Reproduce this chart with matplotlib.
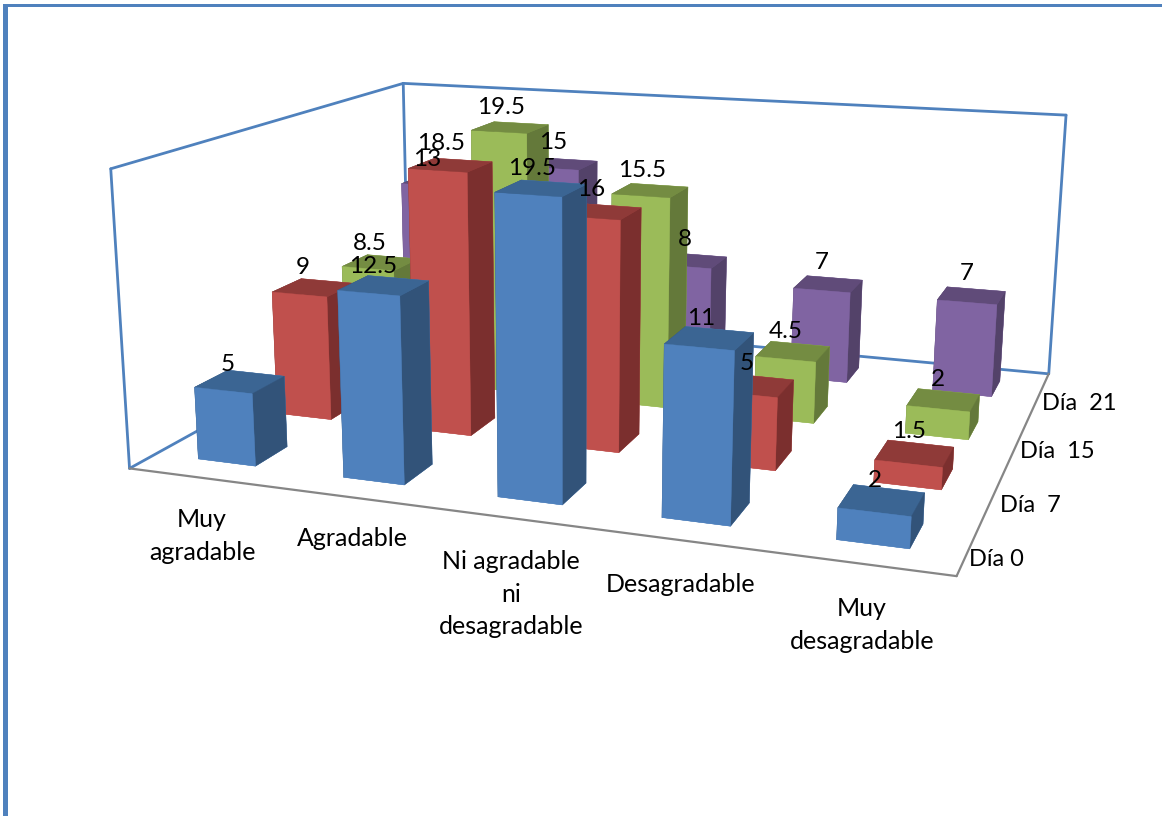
import numpy as np
import matplotlib
matplotlib.use("Agg")
import matplotlib.pyplot as plt
from matplotlib.patches import Rectangle
from mpl_toolkits.mplot3d import proj3d

W, H = 1162, 816

# ---- data -------------------------------------------------------------
categories = ["Muy\nagradable", "Agradable", "Ni agradable\nni\ndesagradable",
              "Desagradable", "Muy\ndesagradable"]
series_names = ["Día 0", "Día  7", "Día  15", "Día  21"]
dia0 = [5, 12.5, 19.5, 11, 2]
dia7 = [9, 18.5, 16, 5, 1.5]
dia15 = [8.5, 19.5, 15.5, 4.5, 2]
dia21 = [13, 15, 8, 7, 7]
series = [dia0, dia7, dia15, dia21]

# ---- style ------------------------------------------------------------
# faces: bottom, top, front, back, left, right
shades = [
    ("#4f81bd", "#3b6593", "#325379"),
    ("#c0504d", "#8f3a38", "#7b2f2e"),
    ("#9bbb59", "#748c42", "#64793a"),
    ("#8064a2", "#604b79", "#534269"),
]
BAR = 0.4            # Excel default gap of 150 %
ZMAX = 20
FS_CAT = 18
FS_VAL = 17.5
FS_SER = 17
WALL = "#4f81bd"
FLOOR = "#868686"
plt.rcParams["font.family"] = ["Lato", "DejaVu Sans"]

# ---- camera: box corners (x, y, z) seen at reference pixels --------------
box_pts = np.array([(0, 0, 0), (5, 0, 0), (5, 4, 0),
                    (0, 4, ZMAX), (5, 4, ZMAX), (0, 0, ZMAX)], float)
pix_pts = np.array([(129.5, 468.3), (956.7, 576), (1048.7, 374),
                    (403.3, 83.3), (1066, 115), (110.7, 169)], float)
rows, rhs = [], []
for (x, y, z), (u, v) in zip(box_pts, pix_pts):
    rows.append([x, y, z, 1, 0, 0, 0, 0, -u*x, -u*y, -u*z]); rhs.append(u)
    rows.append([0, 0, 0, 0, x, y, z, 1, -v*x, -v*y, -v*z]); rhs.append(v)
p = np.linalg.lstsq(np.array(rows), np.array(rhs), rcond=None)[0]
P = np.append(p, 1.0).reshape(3, 4)

fig = plt.figure(figsize=(W/100, H/100), dpi=100, facecolor="white")
ax = fig.add_axes([0, 0, 1, 1], projection="3d")
ax.apply_aspect = lambda position=None: None
ax.computed_zorder = False
ax.set_axis_off()
ax.set_xlim(0, 5); ax.set_ylim(0, 4); ax.set_zlim(0, ZMAX)


def camera():
    vl = ax.viewLim
    r1 = vl.x0*P[2] + vl.width/W*P[0]
    r2 = (vl.y0 + vl.height)*P[2] - vl.height/H*P[1]
    return np.array([r1, r2, [0, 0, 0, -1.0], P[2]])


ax.get_proj = camera

# ---- walls and floor --------------------------------------------------
def edge(a, b, color, lw):
    ax.plot(*zip(a, b), color=color, lw=lw, zorder=1, solid_capstyle="round")

for a, b in [((0, 0, 0), (0, 0, ZMAX)), ((0, 0, ZMAX), (0, 4, ZMAX)),
             ((0, 4, ZMAX), (5, 4, ZMAX)), ((5, 4, ZMAX), (5, 4, 0)),
             ((5, 4, 0), (0, 4, 0)), ((0, 4, 0), (0, 0, 0)),
             ((0, 4, 0), (0, 4, ZMAX))]:
    edge(a, b, WALL, 2.0)
for a, b in [((0, 0, 0), (5, 0, 0)), ((5, 0, 0), (5, 4, 0))]:
    edge(a, b, FLOOR, 1.6)

# ---- bars, back row first, left to right (camera is on the right) -------
order = 10
for j in range(3, -1, -1):
    front, top, side = shades[j]
    face = [front, top, front, front, side, side]
    for i, v in enumerate(series[j]):
        ax.bar3d(i + 0.5 - BAR/2, j + 0.5 - BAR/2, 0, BAR, BAR, v,
                 color=face, edgecolor=face, linewidth=0.3, shade=False,
                 zorder=order)
        order += 1

# ---- value labels: projected bar top + offset in points -------------------
M = camera()
lift_px = [4, 0, 0, -3]          # vertical nudge of each series' labels, px down
for j, vals in enumerate(series):
    for i, v in enumerate(vals):
        X, Y, _ = proj3d.proj_transform(i + 0.46, j + 0.5, v + 1.45, M)
        ax.annotate(f"{v:g}", xy=(X, Y), xycoords="data",
                    xytext=((-5 + 1.2*i)*0.72, -lift_px[j]*0.72),
                    textcoords="offset points", ha="center", va="center",
                    fontsize=FS_VAL, color="black", zorder=100)

# ---- axis labels ------------------------------------------------------
cat_xy = [(202, 536), (352, 539), (511, 594), (681, 585), (862, 625)]
for s, (x, y) in zip(categories, cat_xy):
    fig.text(x/W, 1 - y/H, s, ha="center", va="center", fontsize=FS_CAT,
             linespacing=1.5, color="black")
ser_xy = [(996, 560), (1030, 505), (1057, 452), (1079, 404)]
for s, (x, y) in zip(series_names, ser_xy):
    fig.text(x/W, 1 - y/H, s, ha="center", va="center", fontsize=FS_SER, color="black")

# ---- page frame ---------------------------------------------------------
fig.add_artist(Rectangle((3/W, 0), 5/W, 1 - 4/H, transform=fig.transFigure,
                         facecolor=WALL, edgecolor="none"))
fig.add_artist(Rectangle((3/W, 1 - 7/H), 1 - 3/W, 3/H, transform=fig.transFigure,
                         facecolor=WALL, edgecolor="none"))

fig.savefig("out.png", dpi=100)
